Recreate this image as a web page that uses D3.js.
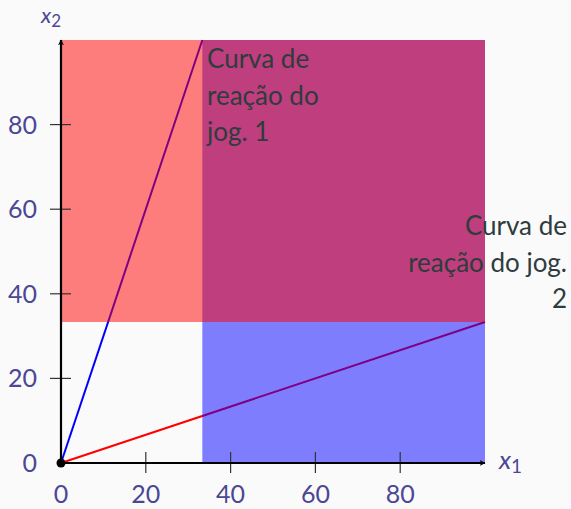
<!DOCTYPE html>
<html>
<head>
<meta charset="utf-8">
<script src="https://cdn.jsdelivr.net/npm/d3@7"></script>
<style>
  body { margin: 0; background: #fafafa; }
  svg { display: block; font-family: Lato, "DejaVu Sans", sans-serif; }
</style>
</head>
<body>
<svg width="571" height="509"></svg>
<script>
// data
var xTicks = [0, 20, 40, 60, 80];
var yTicks = [0, 20, 40, 60, 80];
var domainMax = 100;
var cut = 100 / 3;
// reaction curves: player 1 (x1 = x2/3), player 2 (x2 = x1/3)
var curve1 = [[0, 0], [cut, 100]];
var curve2 = [[0, 0], [100, cut]];
// best-response regions
var regionBlue = [[cut, 0], [100, 100]];
var regionRed = [[0, cut], [100, 100]];
var label1 = ["Curva de", "reação do", "jog. 1"];
var label2 = ["Curva de", "reação do jog.", "2"];

var svg = d3.select("svg");
var x = d3.scaleLinear().domain([0, domainMax]).range([61, 485]);
var y = d3.scaleLinear().domain([0, domainMax]).range([463, 40]);

var tickColor = "#4a4794", textColor = "#2e3c3d";

var line = d3.line().x(function(d) { return x(d[0]); }).y(function(d) { return y(d[1]); });

svg.append("path").attr("d", line(curve1)).attr("fill", "none").attr("stroke", "#0000ff").attr("stroke-width", 2);
svg.append("path").attr("d", line(curve2)).attr("fill", "none").attr("stroke", "#ff0000").attr("stroke-width", 2);

function region(r, color) {
  svg.append("rect")
    .attr("x", x(r[0][0])).attr("y", y(r[1][1]))
    .attr("width", x(r[1][0]) - x(r[0][0]))
    .attr("height", y(r[0][1]) - y(r[1][1]))
    .attr("fill", color).attr("fill-opacity", 0.5);
}
region(regionBlue, "#0000ff");
region(regionRed, "#ff0000");

// ticks
var g = svg.append("g");
g.selectAll(".xt").data(xTicks.slice(1)).enter().append("line")
  .attr("x1", function(d) { return x(d); }).attr("x2", function(d) { return x(d); })
  .attr("y1", y(0) - 11).attr("y2", y(0) + 10)
  .attr("stroke", "#333").attr("stroke-width", 1.2);
g.selectAll(".yt").data(yTicks.slice(1)).enter().append("line")
  .attr("y1", function(d) { return y(d); }).attr("y2", function(d) { return y(d); })
  .attr("x1", x(0) - 11).attr("x2", x(0) + 10)
  .attr("stroke", "#333").attr("stroke-width", 1.2);

g.selectAll(".xl").data(xTicks).enter().append("text")
  .attr("x", function(d) { return x(d); }).attr("y", 503)
  .attr("text-anchor", "middle").attr("font-size", 25).attr("fill", tickColor)
  .text(function(d) { return d; });
g.selectAll(".yl").data(yTicks).enter().append("text")
  .attr("x", 37).attr("y", function(d) { return y(d) + 9; })
  .attr("text-anchor", "end").attr("font-size", 25).attr("fill", tickColor)
  .text(function(d) { return d; });

// axes with arrows
svg.append("defs").append("marker")
  .attr("id", "arr").attr("viewBox", "0 0 10 10").attr("refX", 9).attr("refY", 5)
  .attr("markerWidth", 6).attr("markerHeight", 6).attr("markerUnits", "userSpaceOnUse")
  .attr("orient", "auto")
  .append("path").attr("d", "M0,0 L10,5 L0,10 L3,5 Z").attr("fill", "#000");
svg.append("line").attr("x1", x(0)).attr("y1", y(0)).attr("x2", x(100)).attr("y2", y(0))
  .attr("stroke", "#000").attr("stroke-width", 2.2).attr("marker-end", "url(#arr)");
svg.append("line").attr("x1", x(0)).attr("y1", y(0)).attr("x2", x(0)).attr("y2", y(100))
  .attr("stroke", "#000").attr("stroke-width", 2.2).attr("marker-end", "url(#arr)");
svg.append("circle").attr("cx", x(0)).attr("cy", y(0)).attr("r", 4.5).attr("fill", "#000");

// axis labels
var xl = svg.append("text").attr("x", 499).attr("y", 469).attr("fill", tickColor).attr("font-size", 26)
  .attr("font-style", "italic");
xl.append("tspan").text("x");
xl.append("tspan").attr("font-size", 19).attr("font-style", "normal").attr("dy", 4).text("1");
var yl = svg.append("text").attr("x", 41).attr("y", 23).attr("fill", tickColor).attr("font-size", 22)
  .attr("font-style", "italic");
yl.append("tspan").text("x");
yl.append("tspan").attr("font-size", 17).attr("font-style", "normal").attr("dy", 4).text("2");

// curve labels
svg.append("g").selectAll("text").data(label1).enter().append("text")
  .attr("x", 207).attr("y", function(d, i) { return 68 + i * 36.5; })
  .attr("font-size", 26).attr("fill", textColor).text(function(d) { return d; });
svg.append("g").selectAll("text").data(label2).enter().append("text")
  .attr("x", 567).attr("y", function(d, i) { return 235 + i * 36.5; })
  .attr("text-anchor", "end").attr("font-size", 26).attr("fill", textColor).text(function(d) { return d; });
</script>
</body>
</html>
